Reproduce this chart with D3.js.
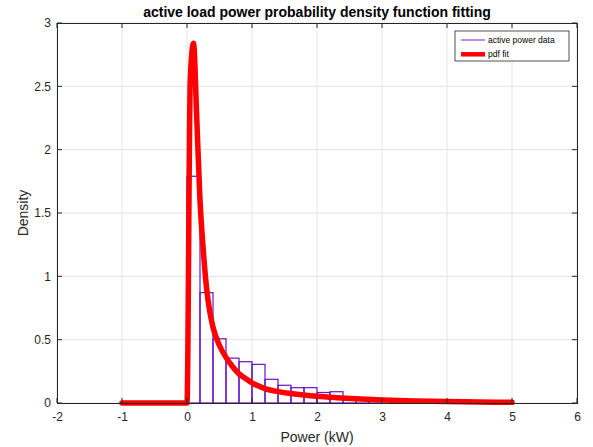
<!DOCTYPE html>
<html>
<head>
<meta charset="utf-8">
<script src="https://cdn.jsdelivr.net/npm/d3@7/dist/d3.min.js"></script>
<style>
  html, body { margin: 0; padding: 0; background: #fff; }
  svg { display: block; font-family: "Liberation Sans", Arial, Helvetica, sans-serif; }
</style>
</head>
<body>
<script>
// ---- data ----
const title = "active load power probability density function fitting";
const xLabel = "Power (kW)";
const yLabel = "Density";
const xTicks = [-2, -1, 0, 1, 2, 3, 4, 5, 6];
const yTicks = [0, 0.5, 1, 1.5, 2, 2.5, 3];
const legendLabels = ["active power data", "pdf fit"];

// histogram bins (left edges, width 0.2) and densities
const binStarts = [0, 0.2, 0.4, 0.6, 0.8, 1.0, 1.2, 1.4, 1.6, 1.8, 2.0, 2.2, 2.4, 2.6, 2.8];
const binWidth = 0.2;
const binDensity = [1.79, 0.871, 0.507, 0.354, 0.326, 0.305, 0.187, 0.14, 0.121, 0.121, 0.083, 0.089, 0.045, 0.035, 0.025];

// fitted pdf curve
const fitX = [-1, -0.5, 0, 0.05, 0.1, 0.15, 0.2, 0.25, 0.3, 0.35, 0.4, 0.5, 0.6, 0.7, 0.8, 0.9, 1.0, 1.2, 1.4, 1.6, 1.8, 2.0, 2.3, 2.6, 3.0, 3.5, 4.0, 4.5, 5.0];
const fitY = [0, 0, 0, 2.55, 2.84, 2.25, 1.6, 1.21, 0.913, 0.723, 0.598, 0.454, 0.36, 0.288, 0.23, 0.194, 0.159, 0.114, 0.09, 0.075, 0.063, 0.053, 0.042, 0.033, 0.024, 0.016, 0.011, 0.008, 0.005];

// ---- layout ----
const W = 593, H = 447;
const m = { left: 57, right: 16, top: 23, bottom: 44 };
const pw = W - m.left - m.right, ph = H - m.top - m.bottom;

const svg = d3.select("body").append("svg").attr("width", W).attr("height", H);

const x = d3.scaleLinear().domain([-2, 6]).range([m.left, m.left + pw]);
const y = d3.scaleLinear().domain([0, 3]).range([m.top + ph, m.top]);

const axisColor = "#262626";
const gridColor = "#e3e3e3";

// grid
const g = svg.append("g");
g.selectAll("line.gx").data(xTicks).join("line")
  .attr("x1", d => x(d)).attr("x2", d => x(d))
  .attr("y1", m.top).attr("y2", m.top + ph)
  .attr("stroke", gridColor).attr("stroke-width", 1);
g.selectAll("line.gy").data(yTicks).join("line")
  .attr("y1", d => y(d)).attr("y2", d => y(d))
  .attr("x1", m.left).attr("x2", m.left + pw)
  .attr("stroke", gridColor).attr("stroke-width", 1);

// histogram
const bins = binStarts.map((s, i) => ({ x0: s, x1: s + binWidth, v: binDensity[i] }));
svg.append("g").selectAll("rect").data(bins).join("rect")
  .attr("x", d => x(d.x0))
  .attr("y", d => y(d.v))
  .attr("width", d => x(d.x1) - x(d.x0))
  .attr("height", d => y(0) - y(d.v))
  .attr("fill", "none")
  .attr("stroke", "#6414c8")
  .attr("stroke-width", 1.2);

// fit curve
const pts = fitX.map((v, i) => [v, fitY[i]]);
svg.append("path")
  .datum(pts)
  .attr("d", d3.line().x(d => x(d[0])).y(d => y(d[1])).curve(d3.curveMonotoneX))
  .attr("fill", "none")
  .attr("stroke", "#ff0000")
  .attr("stroke-width", 5.5)
  .attr("stroke-linejoin", "round")
  .attr("stroke-linecap", "round");

// axes
const xAxis = d3.axisBottom(x).tickValues(xTicks).tickSize(0).tickPadding(9).tickFormat(d => String(d));
const yAxis = d3.axisLeft(y).tickValues(yTicks).tickSize(0).tickPadding(6).tickFormat(d => String(d));

const xa = svg.append("g").attr("transform", `translate(0,${m.top + ph})`).call(xAxis);
const ya = svg.append("g").attr("transform", `translate(${m.left},0)`).call(yAxis);
[xa, ya].forEach(a => {
  a.select(".domain").remove();
  a.selectAll("text").attr("fill", axisColor).style("font-size", "12px");
});

// inner ticks
const tickLen = 5;
svg.append("g").selectAll("line").data(xTicks).join("line")
  .attr("x1", d => x(d)).attr("x2", d => x(d))
  .attr("y1", m.top + ph).attr("y2", m.top + ph - tickLen)
  .attr("stroke", axisColor);
svg.append("g").selectAll("line").data(xTicks).join("line")
  .attr("x1", d => x(d)).attr("x2", d => x(d))
  .attr("y1", m.top).attr("y2", m.top + tickLen)
  .attr("stroke", axisColor);
svg.append("g").selectAll("line").data(yTicks).join("line")
  .attr("y1", d => y(d)).attr("y2", d => y(d))
  .attr("x1", m.left).attr("x2", m.left + tickLen)
  .attr("stroke", axisColor);
svg.append("g").selectAll("line").data(yTicks).join("line")
  .attr("y1", d => y(d)).attr("y2", d => y(d))
  .attr("x1", m.left + pw).attr("x2", m.left + pw - tickLen)
  .attr("stroke", axisColor);

// box
svg.append("rect")
  .attr("x", m.left).attr("y", m.top).attr("width", pw).attr("height", ph)
  .attr("fill", "none").attr("stroke", axisColor).attr("stroke-width", 1)
  .attr("shape-rendering", "crispEdges");

// title & labels
svg.append("text").attr("x", m.left + pw / 2).attr("y", 17)
  .attr("text-anchor", "middle").attr("font-weight", "bold")
  .style("font-size", "14px").attr("fill", "#000").text(title);
svg.append("text").attr("x", m.left + pw / 2).attr("y", 442)
  .attr("text-anchor", "middle").style("font-size", "14px").attr("fill", axisColor).text(xLabel);
svg.append("text").attr("transform", `translate(28,${m.top + ph / 2}) rotate(-90)`)
  .attr("text-anchor", "middle").style("font-size", "14px").attr("fill", axisColor).text(yLabel);

// legend
const lg = svg.append("g");
lg.append("rect").attr("x", 455).attr("y", 31).attr("width", 114).attr("height", 30)
  .attr("fill", "#fff").attr("stroke", axisColor).attr("stroke-width", 0.8);
const legendColors = ["#a070e0", "#ff0000"];
const legendWidths = [1.5, 4.5];
legendLabels.forEach((t, i) => {
  const yy = 40 + i * 14.3;
  lg.append("line").attr("x1", 461).attr("x2", 485).attr("y1", yy).attr("y2", yy)
    .attr("stroke", legendColors[i]).attr("stroke-width", legendWidths[i]);
  lg.append("text").attr("x", 488).attr("y", yy + 3).style("font-size", "8.5px")
    .attr("fill", "#000").text(t);
});
</script>
</body>
</html>
